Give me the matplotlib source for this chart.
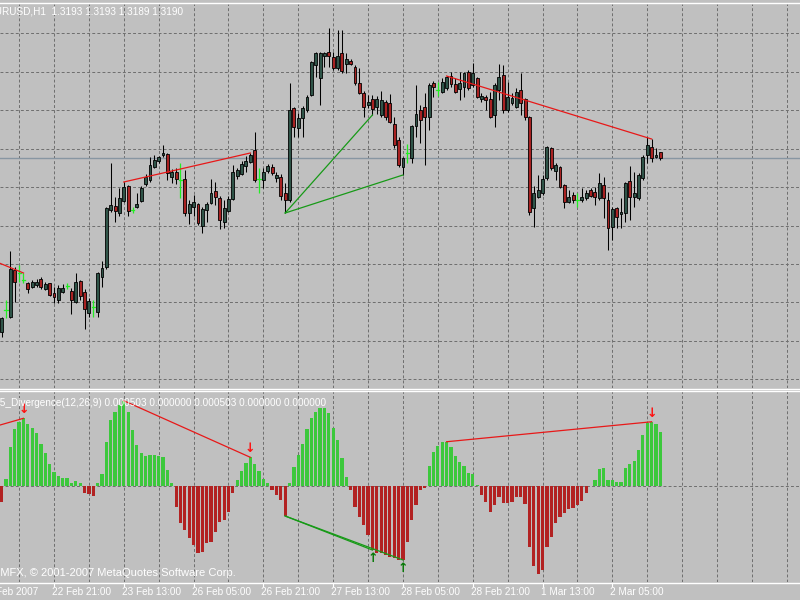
import matplotlib
matplotlib.use("Agg")
import matplotlib.pyplot as plt
from matplotlib.ticker import MultipleLocator, FixedLocator
from matplotlib.patches import Rectangle
from matplotlib.lines import Line2D

# ---------------- data (EURUSD H1, bar index 0 = 22 Feb 21:00) ----------------
FIRST_BAR = -12
opens = [1.31030, 1.31140, 1.31105, 1.31340, 1.31325, 1.31290, 1.31275, 1.31255, 1.31265, 1.31295,
         1.31245, 1.31275, 1.31225, 1.31190, 1.31230, 1.31260, 1.31235, 1.31180, 1.31285, 1.31230,
         1.31125, 1.31155, 1.31130, 1.31305, 1.31355, 1.31640, 1.31660, 1.31625, 1.31685, 1.31760,
         1.31640, 1.31655, 1.31685, 1.31770, 1.31790, 1.31855, 1.31885, 1.31915, 1.31920, 1.31805,
         1.31830, 1.31790, 1.31795, 1.31625, 1.31655, 1.31670, 1.31560, 1.31640, 1.31675, 1.31735,
         1.31700, 1.31580, 1.31635, 1.31695, 1.31810, 1.31820, 1.31860, 1.31880, 1.31940, 1.31795,
         1.31790, 1.31835, 1.31855, 1.31800, 1.31805, 1.31725, 1.31690, 1.32150, 1.32050, 1.32100,
         1.32140, 1.32215, 1.32365, 1.32300, 1.32410, 1.32430, 1.32405, 1.32350, 1.32425, 1.32370,
         1.32385, 1.32355, 1.32275, 1.32225, 1.32165, 1.32195, 1.32155, 1.32115, 1.32180, 1.32175,
         1.32070, 1.31990, 1.31855, 1.31925, 1.31900, 1.32060, 1.32140, 1.32155, 1.32105, 1.32275,
         1.32240, 1.32230, 1.32250, 1.32310, 1.32270, 1.32245, 1.32255, 1.32330, 1.32265, 1.32300,
         1.32195, 1.32205, 1.32195, 1.32115, 1.32240, 1.32315, 1.32140, 1.32175, 1.32155, 1.32240,
         1.32195, 1.32105, 1.31650, 1.31705, 1.31725, 1.31800, 1.31950, 1.31835, 1.31855, 1.31765,
         1.31680, 1.31715, 1.31690, 1.31690, 1.31700, 1.31740, 1.31730, 1.31700, 1.31765, 1.31690,
         1.31555, 1.31650, 1.31620, 1.31625, 1.31785, 1.31705, 1.31700, 1.31800, 1.31915, 1.31955,
         1.31905, 1.31930]
highs = [1.31105, 1.31190, 1.31435, 1.31355, 1.31365, 1.31325, 1.31280, 1.31290, 1.31295, 1.31305,
         1.31280, 1.31275, 1.31255, 1.31265, 1.31270, 1.31275, 1.31250, 1.31325, 1.31290, 1.31245,
         1.31200, 1.31190, 1.31330, 1.31385, 1.31655, 1.31875, 1.31705, 1.31750, 1.31780, 1.31765,
         1.31655, 1.31725, 1.31760, 1.31820, 1.31905, 1.31915, 1.31910, 1.31965, 1.31925, 1.31845,
         1.31850, 1.31875, 1.31840, 1.31690, 1.31715, 1.31675, 1.31655, 1.31680, 1.31795, 1.31780,
         1.31710, 1.31690, 1.31710, 1.31865, 1.31850, 1.31885, 1.31910, 1.31925, 1.32030, 1.31850,
         1.31850, 1.31870, 1.31870, 1.31830, 1.31820, 1.31775, 1.32275, 1.32155, 1.32125, 1.32160,
         1.32215, 1.32385, 1.32430, 1.32430, 1.32430, 1.32550, 1.32430, 1.32540, 1.32540, 1.32425,
         1.32395, 1.32365, 1.32350, 1.32235, 1.32215, 1.32215, 1.32210, 1.32235, 1.32190, 1.32220,
         1.32105, 1.32005, 1.31905, 1.31970, 1.32065, 1.32265, 1.32165, 1.32225, 1.32275, 1.32285,
         1.32280, 1.32300, 1.32310, 1.32330, 1.32300, 1.32330, 1.32330, 1.32340, 1.32375, 1.32305,
         1.32225, 1.32215, 1.32230, 1.32275, 1.32370, 1.32365, 1.32280, 1.32225, 1.32250, 1.32325,
         1.32200, 1.32110, 1.31760, 1.31815, 1.31815, 1.31960, 1.31955, 1.31875, 1.31860, 1.31770,
         1.31740, 1.31730, 1.31725, 1.31750, 1.31740, 1.31750, 1.31755, 1.31825, 1.31805, 1.31730,
         1.31655, 1.31655, 1.31700, 1.31780, 1.31860, 1.31830, 1.31825, 1.31915, 1.32005, 1.31995,
         1.31950, 1.31930]
lows = [1.31005, 1.31100, 1.31100, 1.31180, 1.31280, 1.31275, 1.31225, 1.31250, 1.31255, 1.31245,
        1.31240, 1.31210, 1.31175, 1.31175, 1.31225, 1.31245, 1.31120, 1.31175, 1.31190, 1.31045,
        1.31105, 1.31105, 1.31105, 1.31255, 1.31345, 1.31630, 1.31580, 1.31610, 1.31680, 1.31610,
        1.31625, 1.31650, 1.31680, 1.31760, 1.31780, 1.31850, 1.31875, 1.31905, 1.31790, 1.31775,
        1.31770, 1.31700, 1.31610, 1.31570, 1.31610, 1.31565, 1.31525, 1.31580, 1.31670, 1.31665,
        1.31545, 1.31550, 1.31630, 1.31690, 1.31795, 1.31815, 1.31830, 1.31875, 1.31780, 1.31725,
        1.31750, 1.31825, 1.31815, 1.31780, 1.31690, 1.31625, 1.31680, 1.32005, 1.32005, 1.32005,
        1.32130, 1.32210, 1.32305, 1.32165, 1.32355, 1.32355, 1.32340, 1.32340, 1.32325, 1.32325,
        1.32365, 1.32265, 1.32220, 1.32105, 1.32150, 1.32115, 1.32120, 1.32105, 1.32090, 1.32075,
        1.31950, 1.31855, 1.31815, 1.31875, 1.31875, 1.32005, 1.31975, 1.31865, 1.32040, 1.32205,
        1.32210, 1.32225, 1.32240, 1.32255, 1.32225, 1.32190, 1.32205, 1.32240, 1.32255, 1.32200,
        1.32180, 1.32140, 1.32100, 1.32055, 1.32190, 1.32125, 1.32130, 1.32165, 1.32150, 1.32115,
        1.32090, 1.31615, 1.31555, 1.31700, 1.31715, 1.31790, 1.31840, 1.31790, 1.31750, 1.31650,
        1.31675, 1.31675, 1.31655, 1.31680, 1.31690, 1.31705, 1.31665, 1.31690, 1.31600, 1.31440,
        1.31490, 1.31550, 1.31550, 1.31580, 1.31590, 1.31655, 1.31690, 1.31790, 1.31875, 1.31880,
        1.31900, 1.31890]
closes = [1.31100, 1.31140, 1.31345, 1.31280, 1.31325, 1.31290, 1.31245, 1.31280, 1.31280, 1.31255,
          1.31270, 1.31215, 1.31205, 1.31250, 1.31250, 1.31260, 1.31190, 1.31280, 1.31210, 1.31145,
          1.31185, 1.31155, 1.31325, 1.31350, 1.31650, 1.31665, 1.31635, 1.31700, 1.31755, 1.31635,
          1.31640, 1.31670, 1.31750, 1.31805, 1.31865, 1.31890, 1.31905, 1.31925, 1.31825, 1.31830,
          1.31795, 1.31790, 1.31625, 1.31670, 1.31680, 1.31575, 1.31645, 1.31670, 1.31725, 1.31705,
          1.31590, 1.31650, 1.31695, 1.31830, 1.31840, 1.31870, 1.31885, 1.31915, 1.31790, 1.31795,
          1.31830, 1.31860, 1.31825, 1.31815, 1.31710, 1.31690, 1.32140, 1.32055, 1.32100, 1.32150,
          1.32205, 1.32380, 1.32425, 1.32425, 1.32425, 1.32410, 1.32350, 1.32410, 1.32335, 1.32395,
          1.32370, 1.32275, 1.32225, 1.32155, 1.32180, 1.32145, 1.32195, 1.32190, 1.32105, 1.32080,
          1.31965, 1.31865, 1.31900, 1.31925, 1.32060, 1.32120, 1.32090, 1.32105, 1.32265, 1.32255,
          1.32240, 1.32280, 1.32305, 1.32270, 1.32230, 1.32275, 1.32325, 1.32250, 1.32325, 1.32205,
          1.32210, 1.32190, 1.32105, 1.32265, 1.32305, 1.32140, 1.32205, 1.32200, 1.32230, 1.32175,
          1.32105, 1.31630, 1.31725, 1.31740, 1.31795, 1.31955, 1.31850, 1.31865, 1.31755, 1.31680,
          1.31705, 1.31690, 1.31690, 1.31705, 1.31725, 1.31710, 1.31705, 1.31775, 1.31700, 1.31550,
          1.31645, 1.31605, 1.31630, 1.31775, 1.31705, 1.31725, 1.31815, 1.31905, 1.31965, 1.31900,
          1.31915, 1.31900]
macd = [-0.000145, 0.000062, 0.000364, 0.000525, 0.000595, 0.000627, 0.000571, 0.000540, 0.000488, 0.000386,
        0.000308, 0.000204, 0.000132, 0.000093, 0.000071, 0.000071, 0.000031, 0.000049, 0.000025, -0.000068,
        -0.000074, -0.000093, 0.000031, 0.000111, 0.000410, 0.000611, 0.000688, 0.000750, 0.000790, 0.000688,
        0.000519, 0.000380, 0.000303, 0.000278, 0.000287, 0.000287, 0.000278, 0.000266, 0.000148, 0.000031,
        -0.000192, -0.000345, -0.000407, -0.000484, -0.000546, -0.000618, -0.000608, -0.000531, -0.000516, -0.000423,
        -0.000331, -0.000315, -0.000238, -0.000068, 0.000056, 0.000142, 0.000216, 0.000266, 0.000204, 0.000142,
        0.000062, 0.000031, -0.000037, -0.000083, -0.000130, -0.000278, 0.000031, 0.000173, 0.000287, 0.000389,
        0.000525, 0.000627, 0.000688, 0.000720, 0.000720, 0.000673, 0.000534, 0.000426, 0.000257, 0.000086,
        -0.000037, -0.000192, -0.000284, -0.000361, -0.000454, -0.000593, -0.000620, -0.000620, -0.000639, -0.000657,
        -0.000667, -0.000685, -0.000685, -0.000516, -0.000315, -0.000176, -0.000037, -0.000019, 0.000185, 0.000318,
        0.000370, 0.000410, 0.000410, 0.000364, 0.000278, 0.000225, 0.000185, 0.000123, 0.000111, 0.000005,
        -0.000083, -0.000145, -0.000238, -0.000176, -0.000105, -0.000160, -0.000155, -0.000145, -0.000099, -0.000105,
        -0.000167, -0.000562, -0.000741, -0.000815, -0.000778, -0.000568, -0.000469, -0.000340, -0.000284, -0.000247,
        -0.000216, -0.000206, -0.000176, -0.000136, -0.000068, -0.000003, 0.000056, 0.000155, 0.000164, 0.000056,
        0.000056, 0.000040, 0.000040, 0.000164, 0.000204, 0.000234, 0.000333, 0.000472, 0.000586, 0.000595,
        0.000574, 0.000503]
bars = list(range(FIRST_BAR, FIRST_BAR + len(opens)))

time_labels = ["22 Feb 2007", "22 Feb 21:00", "23 Feb 13:00", "26 Feb 05:00", "26 Feb 21:00",
               "27 Feb 13:00", "28 Feb 05:00", "28 Feb 21:00", "1 Mar 13:00", "2 Mar 05:00"]
label_bars = [-16, 0, 16, 32, 48, 64, 80, 96, 112, 128]

# divergence trend lines: (bar, value) pairs
red_price_lines = [[(-14, 1.31388), (-7, 1.31325)], [(16, 1.31780), (45, 1.31925)],
                   [(90, 1.32310), (137, 1.31995)]]
green_price_lines = [[(53, 1.31625), (73, 1.32115)], [(53, 1.31625), (80, 1.31815)]]
red_macd_lines = [[(-14, 0.000546), (-7, 0.000627)], [(16, 0.000790), (45, 0.000266)],
                  [(90, 0.000410), (137, 0.000595)]]
green_macd_lines = [[(53, -0.000278), (73, -0.000593)], [(53, -0.000278), (80, -0.000685)]]
bear_div_bars = [-7, 45, 137]
bull_div_bars = [73, 80]

symbol_header = "EURUSD,H1  1.3193 1.3193 1.3189 1.3190"
ind_header = "FX5_Divergence(12,26,9) 0.000503 0.000000 0.000503 0.000000 0.000000"
copyright_text = "SMFX, \u00a9 2001-2007 MetaQuotes Software Corp."

# ---------------- styling / layout ----------------
W, H = 800, 600
BG = "#c0c0c0"
GRID = "#707070"
BULL = "#2f5448"
BEAR = "#a82222"
LIME = "#22ee22"
GREEN_BAR = "#3cc83c"
RED_BAR = "#b22222"
FONT = "Liberation Sans"
FS = 7.2

fig = plt.figure(figsize=(8, 6), dpi=100)
fig.patch.set_facecolor(BG)

PX_PER_BAR = 4.362
X0 = 54.0
xlim = (-X0 / PX_PER_BAR, (W - X0) / PX_PER_BAR)


def fy(y):
    return 1 - y / H


ax = fig.add_axes([0, fy(388), 1, (388 - 4) / H])
axm = fig.add_axes([0, fy(582), 1, (582 - 391) / H])
for a in (ax, axm):
    a.set_facecolor(BG)
    a.set_xlim(*xlim)
    for s in a.spines.values():
        s.set_visible(False)
    a.tick_params(left=False, bottom=False, labelleft=False, labelbottom=False)
    a.xaxis.set_major_locator(MultipleLocator(8))
    a.set_axisbelow(True)

# price panel
ax.set_ylim(1.3075, 1.3267)
ax.yaxis.set_major_locator(MultipleLocator(0.0019225, offset=1.325235 % 0.0019225))
ax.grid(True, color=GRID, linestyle=(0, (2.9, 2.2)), linewidth=0.72, zorder=0)
ax.axhline(closes[-1], color="#8896a2", lw=1.0, zorder=1)

for b, o, h, l, c in zip(bars, opens, highs, lows, closes):
    if o == c:
        ax.plot([b, b], [l, h], color=LIME, lw=0.9, zorder=3, solid_capstyle="butt")
        ax.plot([b - 0.35, b + 0.35], [o, o], color=LIME, lw=0.9, zorder=3)
    else:
        ax.plot([b, b], [l, h], color="black", lw=0.75, zorder=2, solid_capstyle="butt")
        ax.add_patch(Rectangle((b - 0.33, min(o, c)), 0.66, abs(c - o),
                               facecolor=BULL if c > o else BEAR, edgecolor="black",
                               lw=0.6, zorder=3))

for seg in red_price_lines:
    ax.plot([p[0] for p in seg], [p[1] for p in seg], color="#e81818", lw=0.9, zorder=4)
for seg in green_price_lines:
    ax.plot([p[0] for p in seg], [p[1] for p in seg], color="#179a17", lw=0.9, zorder=4)

# indicator panel
axm.set_ylim(-0.000889, 0.00088)
axm.yaxis.set_major_locator(FixedLocator([0.0]))
axm.grid(True, color=GRID, linestyle=(0, (2.9, 2.2)), linewidth=0.72, zorder=0)
axm.bar(bars, macd, width=0.74, color=[GREEN_BAR if v >= 0 else RED_BAR for v in macd],
        linewidth=0, zorder=2)
for seg in red_macd_lines:
    axm.plot([p[0] for p in seg], [p[1] for p in seg], color="#e81818", lw=0.9, zorder=4)
for seg in green_macd_lines:
    axm.plot([p[0] for p in seg], [p[1] for p in seg], color="#179a17", lw=0.9, zorder=4)

val = dict(zip(bars, macd))
for b in bear_div_bars:
    axm.annotate("\u2193", (b, val[b]), xytext=(0, 1.5), textcoords="offset points",
                 ha="center", va="bottom", color="#ff1010", fontsize=9, fontweight="bold",
                 family="DejaVu Sans", zorder=5)
for b in bull_div_bars:
    axm.annotate("\u2191", (b, val[b]), xytext=(0, -1.5), textcoords="offset points",
                 ha="center", va="top", color="#087a08", fontsize=9, fontweight="bold",
                 family="DejaVu Sans", zorder=5)

# frame lines (white separators)
for yline in (3, 388.5, 391, 582.5):
    fig.add_artist(Line2D([0, 1], [fy(yline), fy(yline)], color="white", lw=1.0))

# texts
fig.text(-12.5 / W, fy(12), symbol_header, color="white", fontsize=FS, family=FONT,
         ha="left", va="center")
fig.text(-13 / W, fy(403), ind_header, color="white", fontsize=FS, family=FONT,
         ha="left", va="center")
fig.text(-7 / W, fy(573), copyright_text, color="white", fontsize=8.0, family=FONT,
         ha="left", va="center")

for b, lab in zip(label_bars, time_labels):
    xpx = X0 + b * PX_PER_BAR
    fig.add_artist(Line2D([xpx / W, xpx / W], [fy(582.5), fy(586)], color="white", lw=0.8))
    fig.text((xpx - 2) / W, fy(592), lab, color="white", fontsize=FS, family=FONT,
             ha="left", va="center")

fig.savefig("out.png", dpi=100, facecolor=BG)
